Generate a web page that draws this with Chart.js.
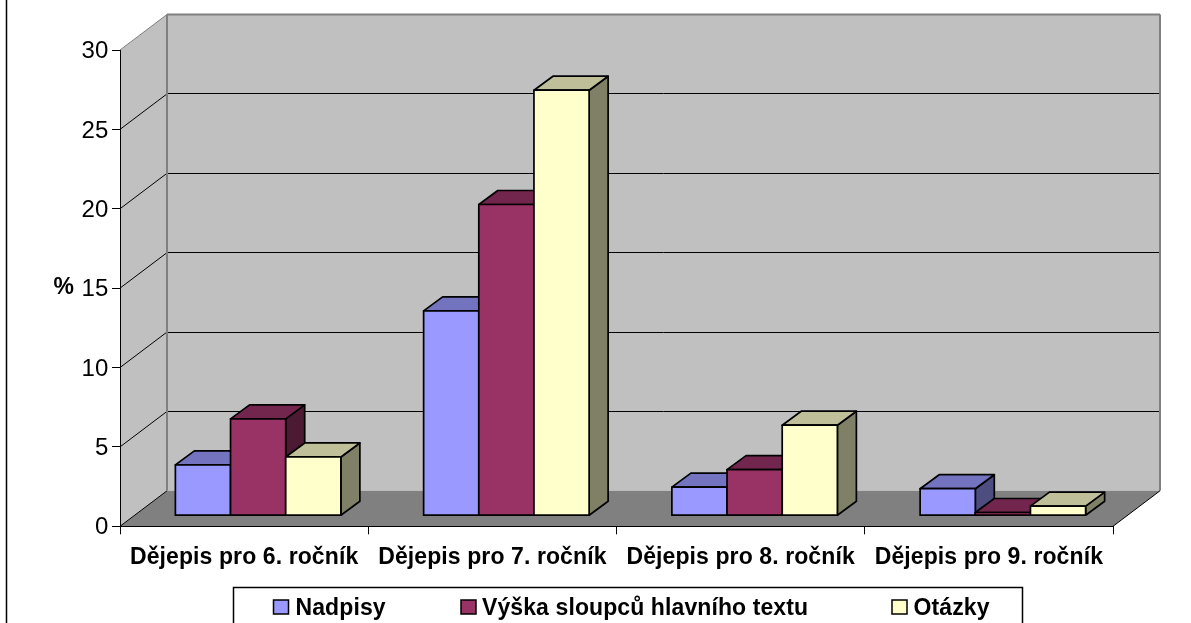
<!DOCTYPE html>
<html><head><meta charset="utf-8">
<style>html,body{margin:0;padding:0;background:#fff}#w{position:relative;width:1191px;height:623px;overflow:hidden}canvas{display:block}</style>
<script src="https://cdn.jsdelivr.net/npm/chart.js@4/dist/chart.umd.min.js"></script>
</head><body><div id="w"><canvas id="c" width="1191" height="623"></canvas></div>
<script>
const categories = ['Dějepis pro 6. ročník','Dějepis pro 7. ročník','Dějepis pro 8. ročník','Dějepis pro 9. ročník'];
const nadpisy = [3.2, 12.9, 1.8, 1.7];
const vyska = [6.1, 19.6, 2.9, 0.2];
const otazky = [3.7, 26.8, 5.7, 0.6];
const seriesNames = ['Nadpisy','Výška sloupců hlavního textu','Otázky'];
const yTicks = [0,5,10,15,20,25,30];
const FONT = '"Liberation Sans", Arial, sans-serif';
const WALL = {dx:47, dy:-35.5}, BAR = {dx:19, dy:-14}, SHIFT = {dx:14, dy:-10.6};
const shades = [
  {front:'#9999FF', top:'#7373BF', side:'#4D4D80'},
  {front:'#993366', top:'#73264D', side:'#4D1A33'},
  {front:'#FFFFCC', top:'#BFBF99', side:'#808066'}
];
const legendSlots = [{sw:273.5, tx:295.5},{sw:461, tx:482},{sw:892, tx:913.5}];

function poly(ctx, pts, fill, stroke, lw){
  ctx.beginPath();
  pts.forEach((p,i)=> i?ctx.lineTo(p[0],p[1]):ctx.moveTo(p[0],p[1]));
  ctx.closePath();
  if(fill){ctx.fillStyle=fill;ctx.fill();}
  if(stroke){ctx.strokeStyle=stroke;ctx.lineWidth=lw||1;ctx.lineJoin='round';ctx.stroke();}
}
function seg(ctx,x0,y0,x1,y1,c,lw){ctx.beginPath();ctx.moveTo(x0,y0);ctx.lineTo(x1,y1);ctx.strokeStyle=c;ctx.lineWidth=lw||1;ctx.stroke();}

const walls = {
  id:'walls',
  beforeDraw(chart){
    const {ctx,scales:{x,y}} = chart;
    ctx.letterSpacing='0.1px';
    const l=x.left,r=x.right,t=y.getPixelForValue(30),b=y.getPixelForValue(0);
    const d=WALL;
    ctx.save();
    seg(ctx,6.5,0,6.5,623,'#000',1.5);
    poly(ctx,[[l,b],[l+d.dx,b+d.dy],[l+d.dx,t+d.dy],[l,t]],'#C0C0C0');
    poly(ctx,[[l+d.dx,b+d.dy],[r+d.dx,b+d.dy],[r+d.dx,t+d.dy],[l+d.dx,t+d.dy]],'#C0C0C0');
    poly(ctx,[[l,b],[r,b],[r+d.dx,b+d.dy],[l+d.dx,b+d.dy]],'#808080');
    yTicks.forEach(v=>{
      const py=y.getPixelForValue(v);
      if(v>0 && v<30){
        const gy=Math.floor(py+d.dy)+.5;
        seg(ctx,l+d.dx,gy,r+d.dx,gy,'#000',1);
      }
      seg(ctx,l,py,l+d.dx,py+d.dy,v===30?'#808080':'#000',1);
    });
    seg(ctx,l+d.dx,t+d.dy,r+d.dx,t+d.dy,'#808080',2);
    seg(ctx,r+d.dx,t+d.dy,r+d.dx,b+d.dy,'#808080',2);
    seg(ctx,l+d.dx,t+d.dy,l+d.dx,b+d.dy,'#808080',2);
    seg(ctx,r,b,r+d.dx,b+d.dy,'#000',1);
    ctx.restore();
  }
};
const bars3d = {
  id:'bars3d',
  beforeDatasetsDraw(chart){
    const ctx=chart.ctx, metas=chart.data.datasets.map((_,i)=>chart.getDatasetMeta(i));
    ctx.save();
    ctx.translate(SHIFT.dx,SHIFT.dy);
    categories.forEach((_,ci)=>{
      metas.forEach((m,si)=>{
        const el=m.data[ci];
        const hw=el.width/2, L=el.x-hw, R=el.x+hw, T=el.y, B=el.base;
        const e=BAR, s=shades[si];
        poly(ctx,[[R,B],[R+e.dx,B+e.dy],[R+e.dx,T+e.dy],[R,T]],s.side,'#000',1.7);
        poly(ctx,[[L,T],[R,T],[R+e.dx,T+e.dy],[L+e.dx,T+e.dy]],s.top,'#000',1.7);
        el.draw(ctx);
        ctx.strokeStyle='#000';ctx.lineWidth=1.7;ctx.lineJoin='round';
        ctx.strokeRect(L,T,R-L,B-T);
      });
    });
    ctx.restore();
    return false;
  }
};
const overlays = {
  id:'overlays',
  afterDraw(chart){
    const ctx=chart.ctx;
    ctx.save();
    ctx.fillStyle='#000';
    ctx.font='bold 23px '+FONT;
    ctx.textBaseline='middle';
    ctx.textAlign='left';
    ctx.fillText('%',53.5,288);
    ctx.fillStyle='#fff';
    ctx.fillRect(233.5,587.5,789,40);
    ctx.strokeStyle='#000';ctx.lineWidth=1.5;
    ctx.strokeRect(233.5,587.5,789,40);
    ctx.font='bold 23px '+FONT;
    seriesNames.forEach((n,i)=>{
      const sl=legendSlots[i];
      ctx.fillStyle=shades[i].front;
      ctx.fillRect(sl.sw,600,15,14);
      ctx.strokeStyle='#000';ctx.lineWidth=1.5;
      ctx.strokeRect(sl.sw,600,15,14);
      ctx.fillStyle='#000';
      ctx.fillText(n,sl.tx,608.5);
    });
    ctx.restore();
  }
};
new Chart(document.getElementById('c'),{
  type:'bar',
  data:{labels:categories,datasets:[
    {label:seriesNames[0],data:nadpisy,backgroundColor:shades[0].front},
    {label:seriesNames[1],data:vyska,backgroundColor:shades[1].front},
    {label:seriesNames[2],data:otazky,backgroundColor:shades[2].front}
  ]},
  options:{
    responsive:false,animation:false,
    layout:{padding:{left:0,right:78,top:50,bottom:0}},
    datasets:{bar:{categoryPercentage:2/3,barPercentage:1,borderWidth:0}},
    plugins:{legend:{display:false},title:{display:false},tooltip:{enabled:false}},
    scales:{
      x:{
        afterFit(s){s.height=96.7;},
        grid:{drawOnChartArea:false,color:'#000',tickLength:8,offset:true},
        border:{color:'#000',width:1},
        ticks:{color:'#000',font:{family:FONT,size:23,weight:'bold'},maxRotation:0,autoSkip:false,padding:10}
      },
      y:{
        min:0,max:30,
        afterFit(s){s.width=120;},
        afterBuildTicks(s){s.ticks=yTicks.map(v=>({value:v}));},
        grid:{drawOnChartArea:false,color:'#000',tickLength:8},
        border:{color:'#000',width:1},
        ticks:{color:'#000',font:{family:FONT,size:24},padding:3.5,labelOffset:1.5}
      }
    }
  },
  plugins:[walls,bars3d,overlays]
});
</script></body></html>
